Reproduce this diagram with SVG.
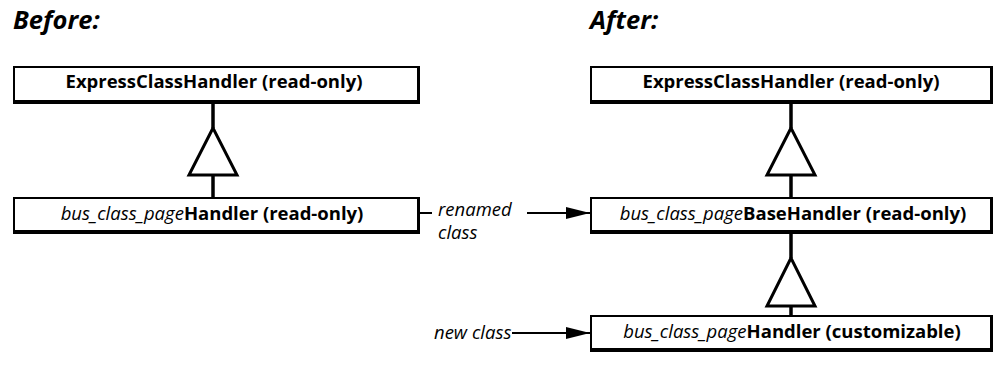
<svg xmlns="http://www.w3.org/2000/svg" width="995" height="371" viewBox="0 0 995 371">
  <style>
    .title { font-family: "Open Sans", "Liberation Sans", sans-serif; font-size: 25.5px; font-weight: bold; font-style: italic; fill: #000; }
    .shadow { fill: #000; }
    .face { fill: #fff; }
    .lbl { font-family: "Open Sans", "Liberation Sans", sans-serif; font-size: 18.5px; fill: #000; text-anchor: middle; }
    .it { font-style: italic; font-weight: normal; }
    .bd { font-weight: bold; font-style: normal; }
    .note { font-family: "Open Sans", "Liberation Sans", sans-serif; font-size: 18.5px; font-style: italic; fill: #000; }
    .edge { stroke: #000; stroke-width: 3.5; fill: none; }
    .tri { stroke: #000; stroke-width: 3; fill: #fff; stroke-linejoin: miter; }
    .arrow { stroke: #000; stroke-width: 2; fill: none; }
  </style>
  <defs>
    <marker id="ah" markerWidth="24" markerHeight="12" refX="24" refY="6" orient="auto" markerUnits="userSpaceOnUse">
      <path d="M0,0 L24,6 L0,12 Z" fill="#000"/>
    </marker>
  </defs>

  <text class="title" x="13" y="29">Before:</text>
  <text class="title" x="590" y="29">After:</text>

  <g id="connectors">
    <line class="edge" x1="213" y1="104" x2="213" y2="128"/>
    <polygon class="tri" points="213,128 189,175 237,175"/>
    <line class="edge" x1="213" y1="176" x2="213" y2="198"/>

    <line class="edge" x1="791" y1="104" x2="791" y2="128"/>
    <polygon class="tri" points="791,128 767,175 815,175"/>
    <line class="edge" x1="791" y1="176" x2="791" y2="198"/>

    <line class="edge" x1="791" y1="234" x2="791" y2="258"/>
    <polygon class="tri" points="791,258 767,306 815,306"/>
    <line class="edge" x1="791" y1="307" x2="791" y2="316"/>

    <line class="arrow" x1="420" y1="213" x2="432" y2="213"/>
    <line class="arrow" x1="527" y1="213" x2="590" y2="213" marker-end="url(#ah)"/>
    <text class="note" x="438" y="216">renamed</text>
    <text class="note" x="438" y="239">class</text>

    <line class="arrow" x1="512" y1="333" x2="590" y2="333" marker-end="url(#ah)"/>
    <text class="note" x="434" y="339">new class</text>
  </g>

  <g id="before-express">
    <rect class="shadow" x="13" y="66" width="407" height="38"/>
    <rect class="face" x="15" y="68" width="402" height="32"/>
    <text class="lbl" x="214" y="88"><tspan class="bd">ExpressClassHandler (read-only)</tspan></text>
  </g>

  <g id="before-bus">
    <rect class="shadow" x="13" y="197" width="407" height="37"/>
    <rect class="face" x="15" y="199" width="402" height="31"/>
    <text class="lbl" x="212" y="220"><tspan class="it">bus_class_page</tspan><tspan class="bd">Handler (read-only)</tspan></text>
  </g>

  <g id="after-express">
    <rect class="shadow" x="590" y="66" width="403" height="38"/>
    <rect class="face" x="592" y="68" width="398" height="32"/>
    <text class="lbl" x="791" y="88"><tspan class="bd">ExpressClassHandler (read-only)</tspan></text>
  </g>

  <g id="after-base">
    <rect class="shadow" x="590" y="197" width="403" height="37"/>
    <rect class="face" x="592" y="199" width="398" height="31"/>
    <text class="lbl" x="793" y="220"><tspan class="it">bus_class_page</tspan><tspan class="bd">BaseHandler (read-only)</tspan></text>
  </g>

  <g id="after-custom">
    <rect class="shadow" x="590" y="315" width="403" height="37"/>
    <rect class="face" x="592" y="317" width="398" height="31"/>
    <text class="lbl" x="792" y="338"><tspan class="it">bus_class_page</tspan><tspan class="bd">Handler (customizable)</tspan></text>
  </g>
</svg>
